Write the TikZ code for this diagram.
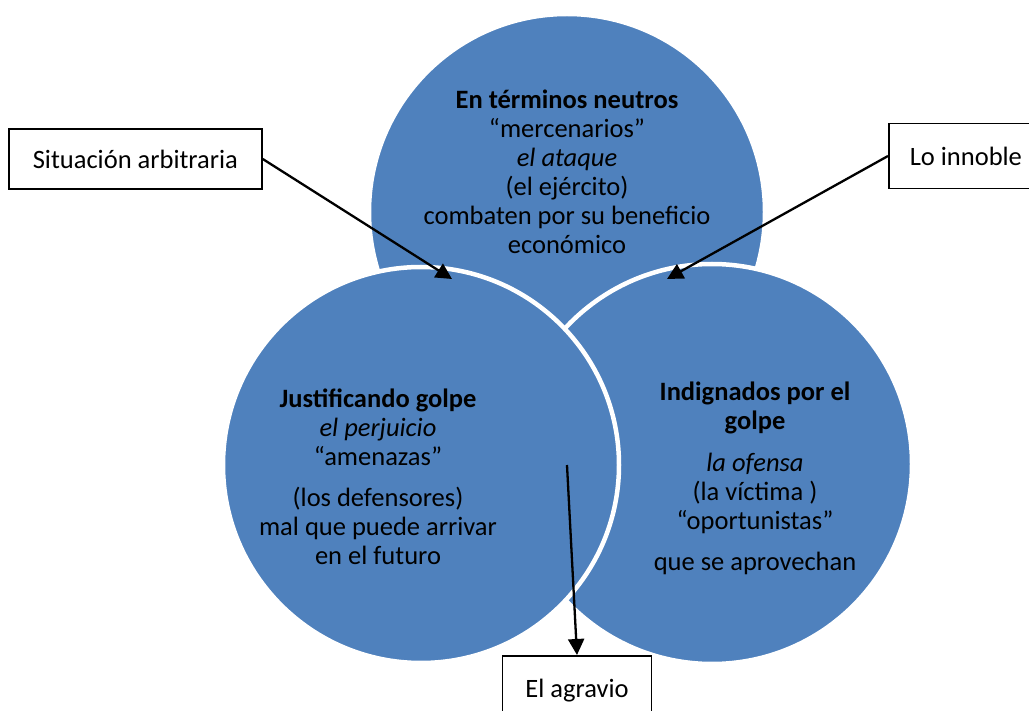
\documentclass[tikz,border=0pt]{standalone}
\usepackage{fontspec}
\setmainfont{Carlito}
\usetikzlibrary{arrows.meta,positioning}
\definecolor{blobblue}{HTML}{4F81BD}

\begin{document}
\begin{tikzpicture}[->,>={Triangle[length=16pt,width=16pt]},x=1pt,y=-1pt,
                    every node/.style={font=\fontsize{26.5}{29}\selectfont},
                    every edge/.append style={line width=2.3pt}]
  \tikzstyle{blob}=[circle,fill=blobblue,draw=white,line width=4.5pt,
                    minimum size=396pt,inner sep=0pt]
  \tikzstyle{note}=[rectangle,draw,fill=white,line width=1.6pt,
                    inner xsep=25pt,minimum height=60pt]
  \tikzstyle{words}=[align=center]

  \useasboundingbox (0,0) rectangle (1029,711);

  \node[blob] (top) at (567,212) {};
  \node[blob,minimum size=400pt] (right) at (712,464) {};
  \node[blob] (left) at (421,465) {};

  \node[words] (toptext) at (567,172)
    {\textbf{En términos neutros}\\“mercenarios”\\\textit{el ataque}\\
     (el ejército)\\combaten por su beneficio\\económico};
  \node[words] (lefttext) at (378,477)
    {\textbf{Justificando golpe}\\\textit{el perjuicio}\\“amenazas”\\[12pt]
     (los defensores)\\mal que puede arrivar\\en el futuro};
  \node[words] (righttext) at (755,478)
    {\textbf{Indignados por el}\\\textbf{golpe}\\[13pt]\textit{la ofensa}\\
     (la víctima )\\“oportunistas”\\[12pt]que se aprovechan};

  \node[note,anchor=west,inner xsep=24pt] (sit) at (8,159) {Situación arbitraria};
  \node[note,anchor=west,inner xsep=21pt,minimum height=65pt] (inn) at (888,156) {Lo innoble};
  \node[note,anchor=north,inner xsep=23pt,minimum height=70pt] (agr) at (577,655) {El agravio};

  \coordinate (sittip) at (452,279);
  \coordinate (inntip) at (667,279);
  \coordinate (agrfoot) at (567,465);

  \path (sit.east) edge (sittip)
        (inn.west) edge (inntip)
        (agrfoot)  edge (agr.north);

\end{tikzpicture}
\end{document}
